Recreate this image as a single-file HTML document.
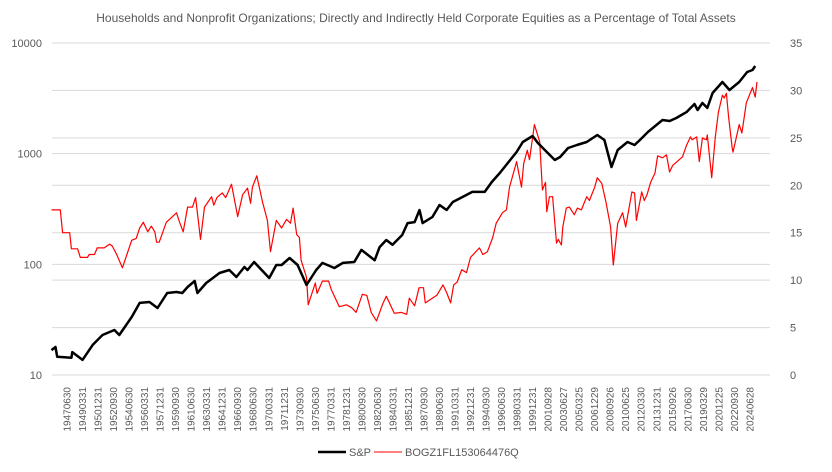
<!DOCTYPE html>
<html><head><meta charset="utf-8"><style>
body{margin:0;background:#fff;font-family:"Liberation Sans",sans-serif}
svg{display:block}
</style></head><body>
<svg id="chart" width="832" height="472" xmlns="http://www.w3.org/2000/svg">
<text x="416" y="22" text-anchor="middle" font-size="12" fill="#595959">Households and Nonprofit Organizations; Directly and Indirectly Held Corporate Equities as a Percentage of Total Assets</text>
<g id="grid"></g><g id="axes"></g><g id="series"></g>
<g>
<line x1="318" y1="452" x2="346" y2="452" stroke="#000" stroke-width="2.5"/>
<text x="349" y="456" font-size="11" fill="#595959">S&amp;P</text>
<line x1="374" y1="452" x2="402" y2="452" stroke="#f00" stroke-width="1"/>
<text x="405" y="456" font-size="11" fill="#595959">BOGZ1FL153064476Q</text>
</g>
</svg>
<script>
const xLabels=["19470630","19490331","19501231","19520930","19540630","19560331","19571231","19590930","19610630","19630331","19641231","19660930","19680630","19700331","19711231","19730930","19750630","19770331","19781231","19800930","19820630","19840331","19851231","19870930","19890630","19910331","19921231","19940930","19960630","19980331","19991231","20010928","20030627","20050325","20061229","20080926","20100625","20120330","20131231","20150926","20170630","20190329","20201225","20220930","20240628"];
const leftTicks=[10,100,1000,10000];
const rightTicks=[0,5,10,15,20,25,30,35];
const spYears=[1945.75,1946.2,1946.4,1948.0,1948.1,1949.25,1950.4,1951.5,1952.85,1953.4,1954.8,1955.7,1956.8,1957.7,1958.8,1959.85,1960.5,1961.1,1961.9,1962.2,1963.2,1964.7,1965.8,1966.6,1967.5,1967.85,1968.6,1970.3,1971.1,1971.7,1972.6,1973.5,1974.5,1975.6,1976.3,1977.65,1978.2,1978.6,1979.9,1980.7,1982.2,1982.75,1983.5,1984.2,1985.3,1985.9,1986.7,1987.25,1987.6,1988.7,1989.5,1990.3,1991.0,1992.1,1993.2,1994.6,1995.4,1996.3,1997.2,1998.2,1998.9,2000.0,2000.6,2001.6,2002.5,2003.1,2004.0,2005.0,2006.1,2007.3,2008.1,2008.9,2009.6,2010.7,2011.5,2012.1,2013.0,2014.65,2015.45,2016.2,2017.35,2018.25,2018.6,2019.15,2019.7,2020.3,2021.4,2022.2,2023.3,2024.2,2024.8,2025.1];
const spValues=[16.8,17.9,14.6,14.3,16.1,13.7,18.7,23.0,25.5,23.0,33.4,44.8,45.7,40.3,55.1,56.2,55.1,62.4,70.7,55.1,67.8,83.5,88.9,76.9,94.6,88.9,105,75.3,98.6,98.6,114,98.6,65.0,88.9,103,92.7,98.6,103,105,135,109,143,166,150,184,236,241,310,236,268,344,310,366,406,451,451,555,669,824,1035,1274,1445,1248,1035,877,933,1125,1197,1274,1475,1328,757,1080,1274,1197,1328,1570,2015,1974,2100,2377,2810,2483,2870,2590,3532,4446,3760,4446,5470,5700,6194];
const bogYears=[1945.75,1946.75,1947.0,1947.8,1948.0,1948.7,1949.0,1949.8,1950.0,1950.6,1950.9,1951.7,1952.3,1952.6,1953.1,1953.75,1954.8,1955.3,1955.7,1956.1,1956.6,1957.0,1957.4,1957.6,1957.9,1958.7,1959.4,1959.85,1960.2,1960.6,1961.1,1961.65,1962.0,1962.55,1963.0,1963.8,1964.05,1964.4,1965.0,1965.4,1966.05,1966.75,1967.3,1967.85,1968.2,1968.4,1968.9,1969.55,1970.1,1970.45,1971.1,1971.7,1972.25,1972.7,1973.0,1973.4,1973.7,1973.9,1974.5,1974.7,1975.5,1975.7,1976.3,1977.0,1977.3,1978.2,1979.0,1979.6,1980.1,1980.8,1981.3,1981.8,1982.4,1983.1,1983.5,1984.4,1985.2,1985.8,1986.1,1986.7,1987.2,1987.7,1987.9,1989.2,1989.9,1990.3,1990.75,1991.1,1991.5,1992.0,1992.55,1993.0,1994.0,1994.4,1994.9,1995.5,1995.9,1996.6,1997.05,1997.4,1998.2,1998.75,1999.0,1999.4,1999.65,2000.2,2000.8,2001.1,2001.45,2001.6,2001.9,2002.25,2002.7,2002.9,2003.25,2003.4,2003.8,2004.15,2004.7,2005.05,2005.5,2006.1,2006.4,2007.0,2007.3,2007.8,2008.3,2008.8,2009.1,2009.6,2010.15,2010.5,2011.2,2011.5,2011.7,2012.3,2012.6,2012.9,2013.3,2013.8,2014.1,2014.65,2015.1,2015.45,2015.8,2016.9,2017.35,2017.8,2018.0,2018.5,2018.8,2019.15,2019.6,2019.7,2020.2,2020.6,2020.95,2021.4,2021.6,2021.85,2022.1,2022.5,2022.6,2023.3,2023.6,2024.1,2024.8,2025.1,2025.3];
const bogValues=[17.4,17.4,15.0,15.0,13.3,13.3,12.4,12.4,12.7,12.7,13.4,13.4,13.8,13.6,12.7,11.3,14.2,14.4,15.5,16.1,15.1,15.7,15.1,14.0,14.0,16.1,16.7,17.1,16.1,15.1,17.7,17.7,18.7,14.3,17.7,18.8,17.9,18.7,19.2,18.7,20.1,16.7,19.0,19.7,18.1,19.8,21.0,18.2,16.3,13.0,16.3,15.5,16.4,16.0,17.6,14.8,14.5,12.1,10.3,7.4,9.7,8.6,9.9,9.9,9.0,7.2,7.4,7.1,6.6,8.5,8.4,6.6,5.7,7.5,8.3,6.5,6.6,6.4,8.1,7.3,9.2,9.2,7.6,8.4,9.5,8.7,7.6,9.5,9.8,11.1,10.8,12.4,13.4,12.7,13.0,14.5,16.0,17.1,17.4,19.8,22.5,19.8,22.3,23.7,22.7,26.4,24.6,19.5,20.3,17.2,18.8,18.8,13.9,14.3,13.7,15.6,17.6,17.7,16.9,17.6,17.4,18.8,18.4,19.8,20.8,20.2,18.1,15.6,11.6,16.0,17.1,15.6,19.3,19.2,16.3,19.3,18.4,19.0,20.3,21.3,23.1,22.9,23.2,21.4,22.1,23.0,24.2,25.1,24.8,25.1,22.5,25.0,24.8,25.3,20.8,25.1,27.7,29.5,29.2,29.7,27.2,24.0,23.5,26.4,25.5,28.7,30.3,29.3,30.9];

const NS="http://www.w3.org/2000/svg";
const PL=52,PR=770,PT=43,PB=375;
function xScale(t){return 67+(t-1947.5)/1.75*15.52;}
function yLeft(v){return PB-(Math.log10(v)-1)/3*(PB-PT);}
function yRight(v){return PB-v/35*(PB-PT);}
function mk(tag,attrs,parent){const e=document.createElementNS(NS,tag);for(const k in attrs)e.setAttribute(k,attrs[k]);parent.appendChild(e);return e;}
const grid=document.getElementById('grid'),axes=document.getElementById('axes'),series=document.getElementById('series');
rightTicks.forEach(v=>{const y=yRight(v);
 const l=mk('line',{x1:PL,x2:PR,y1:y,y2:y,stroke:'#d9d9d9','stroke-width':1},grid);
 
 
 const t=mk('text',{x:790,y:y+4,'font-size':11,fill:'#595959'},axes);t.textContent=v;
 
 });
leftTicks.forEach(v=>{const y=yLeft(v);
 const l=mk('line',{x1:PL,x2:PR,y1:y,y2:y,stroke:'#d9d9d9','stroke-width':1},grid);
 
 
 const t=mk('text',{x:42,y:y+4,'font-size':11,fill:'#595959','text-anchor':'end'},axes);t.textContent=v;
 
 });
xLabels.forEach((s,i)=>{const t0=1947.5+i*1.75;const x=xScale(t0)+3.5;
 const t=mk('text',{x:0,y:0,'font-size':10,fill:'#595959','text-anchor':'end',transform:`translate(${x},387) rotate(-90)`},axes);t.textContent=s;
 
 });
function path(xs,ys,fy){return xs.map((t,i)=>(i?'L':'M')+xScale(t).toFixed(1)+' '+fy(ys[i]).toFixed(1)).join(' ');}
const red=mk('path',{d:path(bogYears,bogValues,yRight),fill:'none',stroke:'#ff0000','stroke-width':1.2,'stroke-linejoin':'round'},series);


const blk=mk('path',{d:path(spYears,spValues,yLeft),fill:'none',stroke:'#000','stroke-width':2.5,'stroke-linejoin':'round'},series);


</script>
</body></html>
